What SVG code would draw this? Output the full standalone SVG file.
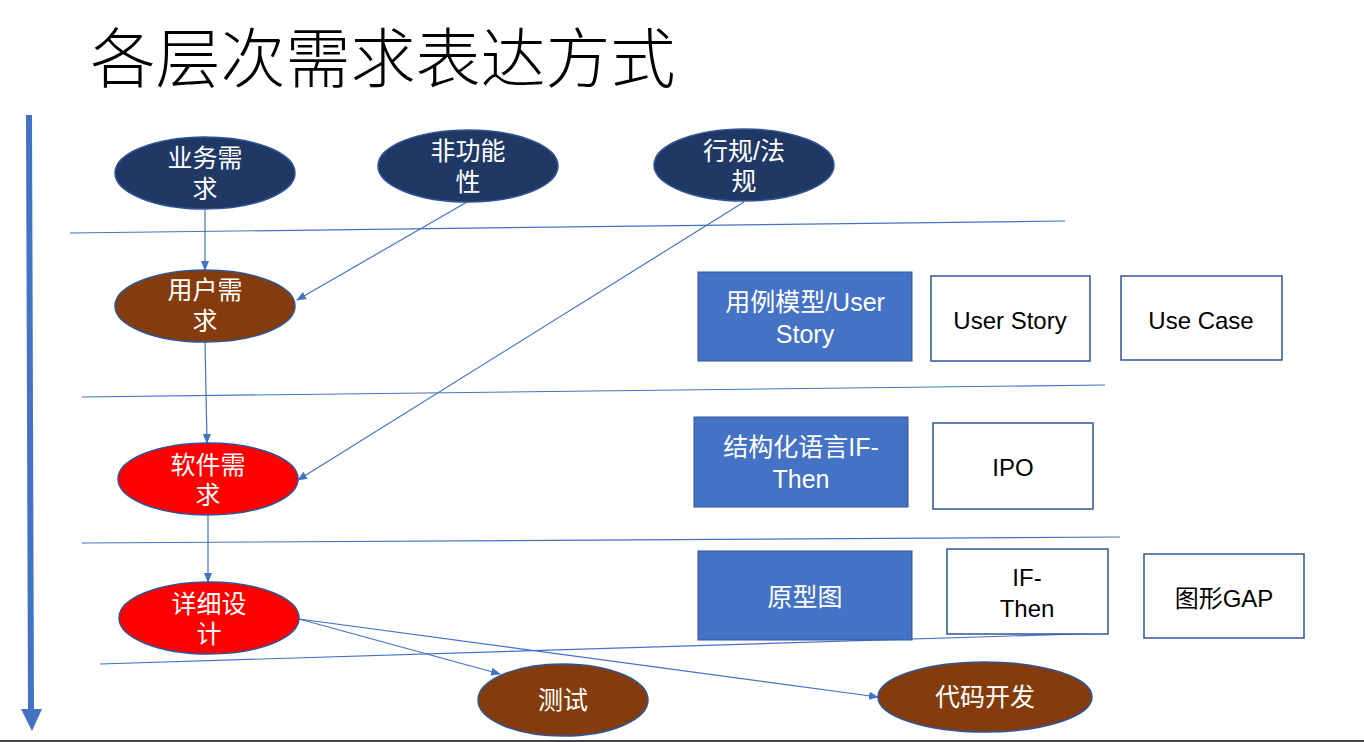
<svg xmlns="http://www.w3.org/2000/svg" width="1364" height="742" viewBox="0 0 1364 742">
<defs>
<style>
text{font-family:"Noto Sans CJK SC","Noto Sans",sans-serif;text-anchor:middle}
.t{font-size:25px;fill:#fff;font-family:"Liberation Sans","Noto Sans CJK SC",sans-serif}
.b{font-size:24px;fill:#000;font-family:"Liberation Sans","Noto Sans CJK SC",sans-serif}
.el{stroke:#2F5597;stroke-width:1.5}
.navy{fill:#203864}
.brown{fill:#843C0C}
.red{fill:#FF0000}
.fr{fill:#4472C4;stroke:#2F5597;stroke-width:1}
.wr{fill:#fff;stroke:#2F5597;stroke-width:1.5}
.sep{stroke:#4472C4;stroke-width:1.2;fill:none}
.con{stroke:#4472C4;stroke-width:1.2;fill:none;marker-end:url(#ah)}
</style>
<marker id="ah" markerWidth="10" markerHeight="10" refX="9" refY="5" orient="auto" markerUnits="userSpaceOnUse">
<path d="M0,1 L10,5 L0,9 Z" fill="#4472C4"/>
</marker>
</defs>
<rect width="1364" height="742" fill="#fff"/>
<text x="383" y="82" style="font-size:65px;fill:#000;font-weight:300">各层次需求表达方式</text>
<g id="timeline">
<line x1="29" y1="115" x2="31" y2="712" stroke="#4472C4" stroke-width="6"/>
<path d="M21,709 L42,709 L32,731 Z" fill="#4472C4"/>
</g>
<g id="separators">
<line class="sep" x1="70" y1="233" x2="1065" y2="221"/>
<line class="sep" x1="82" y1="397" x2="1105" y2="385"/>
<line class="sep" x1="82" y1="543" x2="1120" y2="537"/>
<line class="sep" x1="100" y1="664" x2="1108" y2="633"/>
</g>
<g id="connectors">
<line class="con" x1="205" y1="210" x2="205" y2="270"/>
<line class="con" x1="467" y1="202" x2="297" y2="300"/>
<line class="con" x1="744" y1="202" x2="298" y2="480"/>
<line class="con" x1="205" y1="341" x2="207" y2="443"/>
<line class="con" x1="208" y1="516" x2="208" y2="582"/>
<line class="con" x1="299" y1="619" x2="500" y2="674"/>
<line class="con" x1="299" y1="619" x2="878" y2="697"/>
</g>
<g id="n-business">
<ellipse class="el navy" cx="205" cy="173" rx="90" ry="36"/>
<text class="t" x="205" y="167">业务需<tspan x="205" dy="31">求</tspan></text>
</g>
<g id="n-nonfunc">
<ellipse class="el navy" cx="468" cy="166" rx="90" ry="36"/>
<text class="t" x="468" y="160">非功能<tspan x="468" dy="31">性</tspan></text>
</g>
<g id="n-regulation">
<ellipse class="el navy" cx="744" cy="165" rx="90" ry="36"/>
<text class="t" x="744" y="160">行规/法<tspan x="744" dy="30">规</tspan></text>
</g>
<g id="n-user">
<ellipse class="el brown" cx="205" cy="306" rx="90" ry="36"/>
<text class="t" x="205" y="299">用户需<tspan x="205" dy="31">求</tspan></text>
</g>
<g id="n-software">
<ellipse class="el red" cx="208" cy="479" rx="90" ry="36"/>
<text class="t" x="208" y="474">软件需<tspan x="208" dy="30">求</tspan></text>
</g>
<g id="n-design">
<ellipse class="el red" cx="209" cy="618" rx="90" ry="36"/>
<text class="t" x="209" y="613">详细设<tspan x="209" dy="30">计</tspan></text>
</g>
<g id="n-test">
<ellipse class="el brown" cx="563" cy="700" rx="85" ry="36"/>
<text class="t" x="563" y="709">测试</text>
</g>
<g id="n-code">
<ellipse class="el brown" cx="985" cy="697" rx="107" ry="35"/>
<text class="t" x="985" y="706">代码开发</text>
</g>
<g id="r-usecase-model">
<rect class="fr" x="698" y="272" width="214" height="89"/>
<text class="t" x="805" y="311">用例模型/User<tspan x="805" dy="32">Story</tspan></text>
</g>
<g id="r-userstory">
<rect class="wr" x="931" y="276" width="159" height="85"/>
<text class="b" x="1010" y="329">User Story</text>
</g>
<g id="r-usecase">
<rect class="wr" x="1121" y="276" width="161" height="84"/>
<text class="b" x="1201" y="329">Use Case</text>
</g>
<g id="r-structured">
<rect class="fr" x="694" y="417" width="214" height="90"/>
<text class="t" x="801" y="456">结构化语言IF-<tspan x="801" dy="32">Then</tspan></text>
</g>
<g id="r-ipo">
<rect class="wr" x="933" y="423" width="160" height="86"/>
<text class="b" x="1013" y="476">IPO</text>
</g>
<g id="r-prototype">
<rect class="fr" x="698" y="551" width="214" height="89"/>
<text class="t" x="805" y="606">原型图</text>
</g>
<g id="r-ifthen">
<rect class="wr" x="947" y="549" width="161" height="85"/>
<text class="b" x="1027" y="586">IF-<tspan x="1027" dy="31">Then</tspan></text>
</g>
<g id="r-gap">
<rect class="wr" x="1144" y="554" width="160" height="84"/>
<text class="b" x="1224" y="607">图形GAP</text>
</g>
<rect x="0" y="740" width="1364" height="2" fill="#444"/>
</svg>
